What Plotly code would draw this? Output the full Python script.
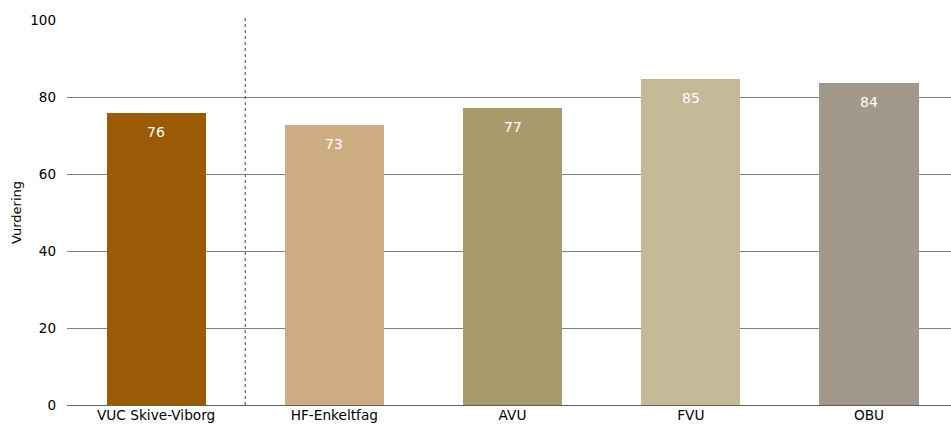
import plotly.graph_objects as go

categories = ["VUC Skive-Viborg", "HF-Enkeltfag", "AVU", "FVU", "OBU"]
values = [75.8, 72.6, 77.2, 84.6, 83.7]
colors = ["#9B5A06", "#CDAC82", "#A89C6C", "#C4BA98", "#A2988C"]
y_ticks = [0, 20, 40, 60, 80, 100]
y_title = "Vurdering"

FONT = "DejaVu Sans"

fig = go.Figure()
fig.add_trace(go.Bar(
    x=categories, y=values, marker=dict(color=colors, line=dict(width=0)),
    width=0.556, hoverinfo="skip",
))

for c, v in zip(categories, values):
    fig.add_annotation(x=c, y=v, yshift=-19, text=str(round(v)), showarrow=False,
                       font=dict(family=FONT, size=14, color="white"))

fig.add_shape(type="line", xref="x", yref="paper", x0=0.5, x1=0.5, y0=0, y1=1.005,
              line=dict(color="#444444", width=1, dash="dot"))

fig.update_layout(
    width=951, height=429,
    margin=dict(l=67, r=0, t=20, b=24),
    paper_bgcolor="white", plot_bgcolor="white",
    showlegend=False,
    font=dict(family=FONT, size=13.5, color="black"),
    bargap=0,
    xaxis=dict(range=[-0.5, 4.46], showgrid=False, ticks="", tickfont=dict(size=13.7),
               showline=False, zeroline=False),
    yaxis=dict(range=[0, 100], tickvals=y_ticks, showgrid=True, gridcolor="#808080",
               gridwidth=1, zeroline=True, zerolinecolor="#606060", zerolinewidth=1,
               ticks="", ticklen=0, tickfont=dict(size=13.5), ticklabelstandoff=10,
               title=dict(text=y_title, font=dict(size=13), standoff=5)),
)

fig.write_html("out.html", config={"displayModeBar": False, "staticPlot": True},
               post_script="document.body.style.margin='0';document.body.style.overflow='hidden';")
